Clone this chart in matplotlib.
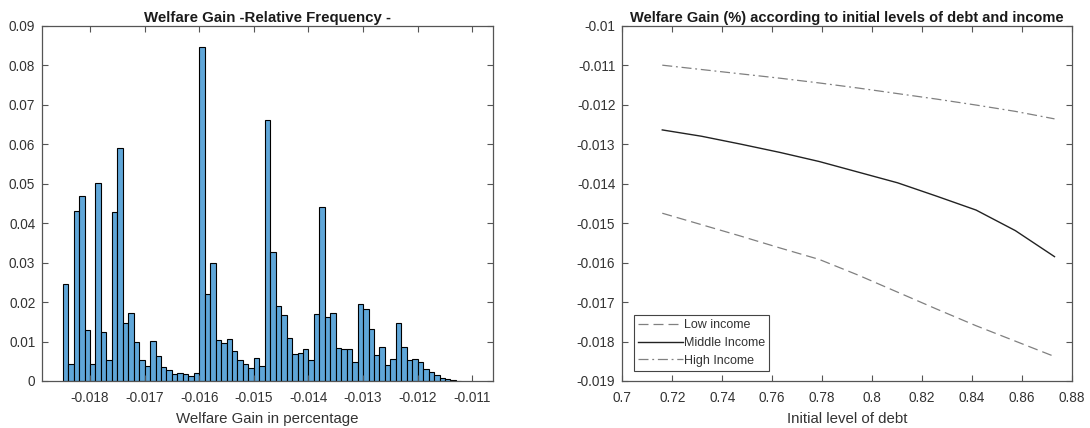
import numpy as np
import matplotlib
matplotlib.use("Agg")
import matplotlib.pyplot as plt

plt.rcParams['font.family'] = ['Liberation Sans', 'DejaVu Sans']

# ---- Histogram data (relative frequency per bin) ----
bin_start = -0.0185
bin_width = 0.0001
rel_freq = [
    0.0245, 0.0043, 0.0430, 0.0469, 0.0129, 0.0043, 0.0501, 0.0124, 0.0052, 0.0427,
    0.0590, 0.0146, 0.0173, 0.0100, 0.0053, 0.0039, 0.0102, 0.0063, 0.0035, 0.0028,
    0.0018, 0.0020, 0.0018, 0.0013, 0.0021, 0.0846, 0.0220, 0.0300, 0.0103, 0.0096,
    0.0106, 0.0076, 0.0053, 0.0042, 0.0032, 0.0058, 0.0039, 0.0660, 0.0327, 0.0189,
    0.0167, 0.0108, 0.0069, 0.0072, 0.0082, 0.0052, 0.0170, 0.0441, 0.0162, 0.0173,
    0.0084, 0.0080, 0.0080, 0.0049, 0.0195, 0.0182, 0.0132, 0.0065, 0.0085, 0.0041,
    0.0056, 0.0146, 0.0085, 0.0052, 0.0056, 0.0048, 0.0030, 0.0022, 0.0016, 0.0008,
    0.0004, 0.0002, 0.0001,
]
hist_xticks = [-0.018, -0.017, -0.016, -0.015, -0.014, -0.013, -0.012, -0.011]
hist_xticklabels = ['-0.018', '-0.017', '-0.016', '-0.015', '-0.014', '-0.013', '-0.012', '-0.011']
hist_yticks = [0, 0.01, 0.02, 0.03, 0.04, 0.05, 0.06, 0.07, 0.08, 0.09]
hist_yticklabels = ['0', '0.01', '0.02', '0.03', '0.04', '0.05', '0.06', '0.07', '0.08', '0.09']

# ---- Line data ----
debt = [0.716, 0.7317, 0.7474, 0.7631, 0.7788, 0.7945, 0.8102, 0.8259, 0.8416, 0.8573, 0.873]
low_income = [-0.01475, -0.01504, -0.01533, -0.01563, -0.01592, -0.01632, -0.01675,
              -0.01718, -0.01760, -0.01799, -0.01838]
middle_income = [-0.01264, -0.01280, -0.01300, -0.01321, -0.01344, -0.01371, -0.01398,
                 -0.01432, -0.01467, -0.01519, -0.01585]
high_income = [-0.01100, -0.01111, -0.01122, -0.01133, -0.01145, -0.01158, -0.01172,
               -0.01186, -0.01201, -0.01217, -0.01236]
line_xticks = [0.7, 0.72, 0.74, 0.76, 0.78, 0.8, 0.82, 0.84, 0.86, 0.88]
line_xticklabels = ['0.7', '0.72', '0.74', '0.76', '0.78', '0.8', '0.82', '0.84', '0.86', '0.88']
line_yticks = [-0.019, -0.018, -0.017, -0.016, -0.015, -0.014, -0.013, -0.012, -0.011, -0.01]
line_yticklabels = ['-0.019', '-0.018', '-0.017', '-0.016', '-0.015', '-0.014', '-0.013',
                    '-0.012', '-0.011', '-0.01']

W, H = 1090, 428
fig = plt.figure(figsize=(W / 100, H / 100), dpi=100)

txtc = '#333333'

def style(ax):
    for s in ax.spines.values():
        s.set_color('#555555')
        s.set_linewidth(0.9)
    ax.tick_params(direction='in', length=4, width=0.8, color='#555555',
                   top=True, right=True, labelsize=9.8, labelcolor=txtc)
    ax.tick_params(axis='x', pad=7.5)
    ax.tick_params(axis='y', pad=5)

# left: histogram
ax1 = fig.add_axes([42.3 / W, 47 / H, 450.4 / W, 355.3 / H])
edges = bin_start + bin_width * np.arange(len(rel_freq))
ax1.bar(edges, rel_freq, width=bin_width, align='edge', color='#5FA6D8',
        edgecolor='black', linewidth=0.8)
ax1.set_xlim(-0.018873, -0.010626)
ax1.set_ylim(0, 0.09)
ax1.set_xticks(hist_xticks)
ax1.set_xticklabels(hist_xticklabels)
ax1.set_yticks(hist_yticks)
ax1.set_yticklabels(hist_yticklabels)
style(ax1)
ax1.set_title('Welfare Gain -Relative Frequency -', fontsize=10.8, fontweight='bold',
              color='#1a1a1a', pad=3)
ax1.set_xlabel('Welfare Gain in percentage', fontsize=10.8, color=txtc, labelpad=4.5)

# right: lines
ax2 = fig.add_axes([622.3 / W, 47 / H, 449.7 / W, 355.3 / H])
ax2.plot(debt, low_income, linestyle=(0, (8, 4)), color='#808080', linewidth=0.9,
         label='Low income')
ax2.plot(debt, middle_income, linestyle='-', color='#222222', linewidth=1.0,
         label='Middle Income')
ax2.plot(debt, high_income, linestyle=(0, (8, 3, 1.5, 3)), color='#808080', linewidth=0.9,
         label='High Income')
ax2.set_xlim(0.7, 0.88)
ax2.set_ylim(-0.019, -0.01)
ax2.set_xticks(line_xticks)
ax2.set_xticklabels(line_xticklabels)
ax2.set_yticks(line_yticks)
ax2.set_yticklabels(line_yticklabels)
style(ax2)
ax2.set_title('Welfare Gain (%) according to initial levels of debt and income', fontsize=10.5,
              fontweight='bold', color='#1a1a1a', pad=3)
ax2.set_xlabel('Initial level of debt', fontsize=10.8, color=txtc, labelpad=4.5)
leg = ax2.legend(loc='lower left', bbox_to_anchor=(0.025, 0.028), fontsize=9,
                 handlelength=3.6, handletextpad=0.05, borderpad=0.35, labelspacing=0.45,
                 fancybox=False, framealpha=1, edgecolor='#444444', borderaxespad=0)
leg.get_frame().set_linewidth(0.8)
for t in leg.get_texts():
    t.set_color(txtc)

fig.savefig('out.png', dpi=100, facecolor='white')
